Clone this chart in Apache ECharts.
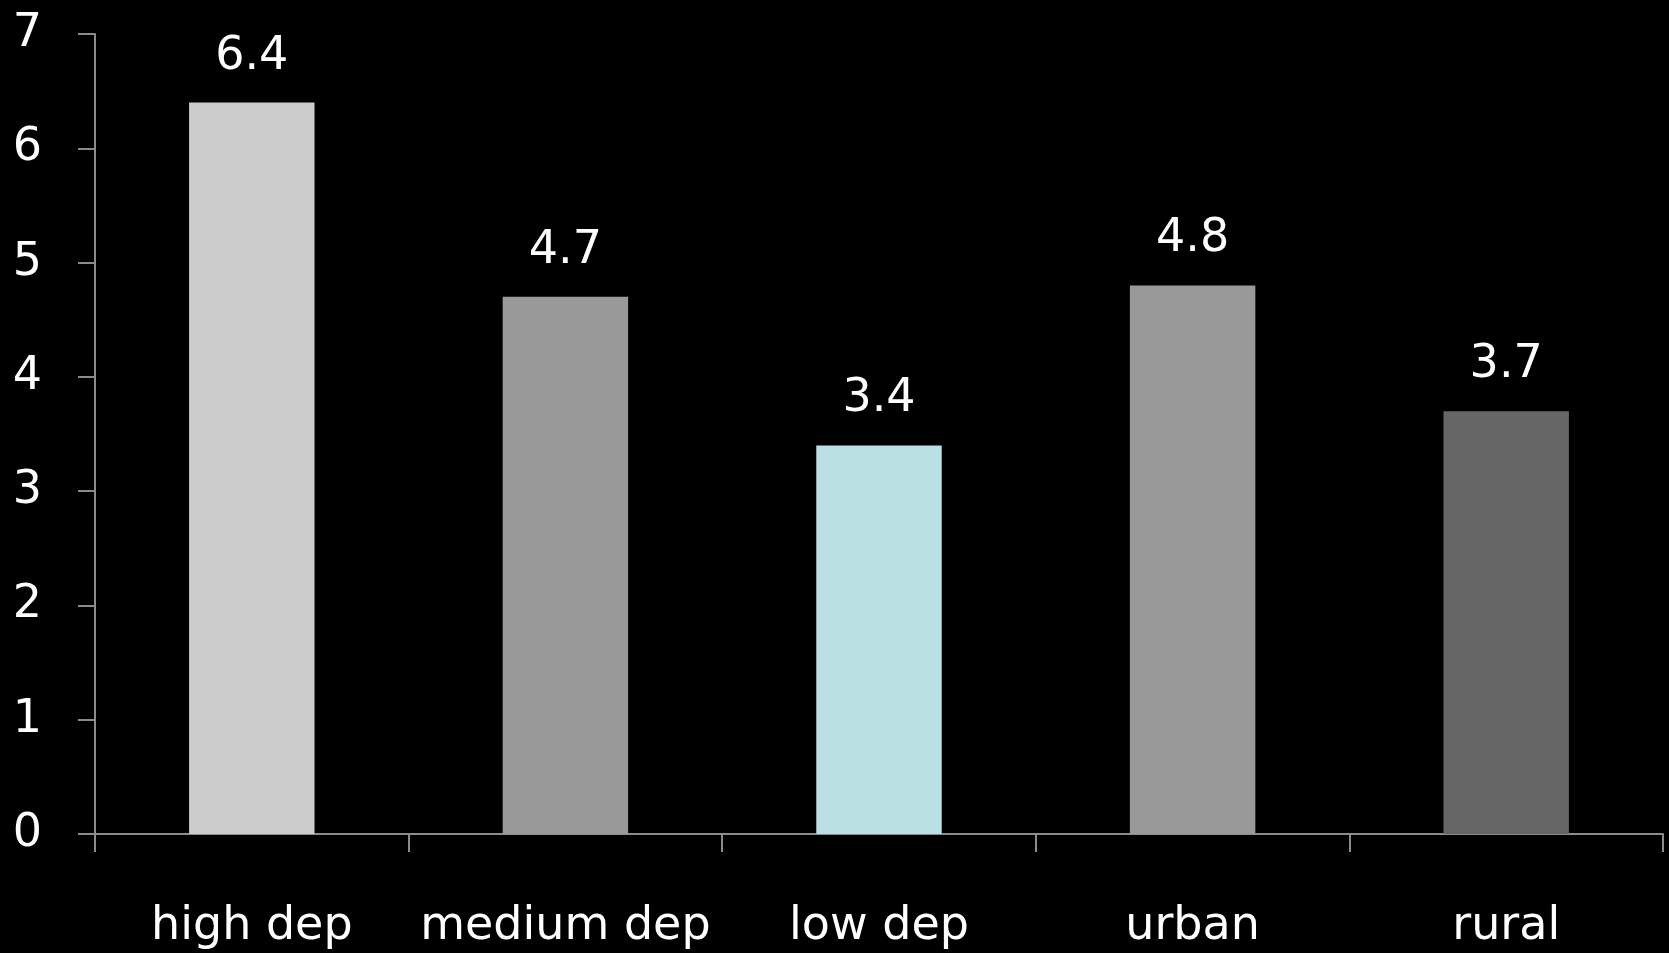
<!DOCTYPE html>
<html>
<head>
<meta charset="utf-8">
<script src="https://cdn.jsdelivr.net/npm/echarts@6/dist/echarts.min.js"></script>
<style>
html,body{margin:0;padding:0;background:#000;}
#chart{width:1669px;height:953px;}
</style>
</head>
<body>
<div id="chart"></div>
<script>
const categories = ['high dep', 'medium dep', 'low dep', 'urban', 'rural'];
const values = [6.4, 4.7, 3.4, 4.8, 3.7];
const barColors = ['#cccccc', '#999999', '#bae0e3', '#999999', '#666666'];
const yTicks = [0, 1, 2, 3, 4, 5, 6, 7];

const chart = echarts.init(document.getElementById('chart'));
chart.setOption({
  backgroundColor: '#000000',
  animation: false,
  grid: { left: 95, right: 6, top: 34, bottom: 119, containLabel: false },
  xAxis: {
    type: 'category',
    data: categories,
    axisLine: { show: true, lineStyle: { color: '#8c8c8c', width: 2 } },
    axisTick: { show: true, interval: 0, length: 18, lineStyle: { color: '#8c8c8c', width: 2 } },
    axisLabel: { color: '#ffffff', fontSize: 46, fontFamily: 'DejaVu Sans', margin: 70, interval: 0 },
    splitLine: { show: false }
  },
  yAxis: {
    type: 'value',
    min: yTicks[0],
    max: yTicks[yTicks.length - 1],
    interval: 1,
    axisLine: { show: true, lineStyle: { color: '#8c8c8c', width: 2 } },
    axisTick: { show: true, length: 17, lineStyle: { color: '#8c8c8c', width: 2 } },
    axisLabel: { color: '#ffffff', fontSize: 46, fontFamily: 'DejaVu Sans', margin: 53 },
    splitLine: { show: false }
  },
  series: [{
    type: 'bar',
    barWidth: '40%',
    data: values.map((v, i) => ({ value: v, itemStyle: { color: barColors[i] } })),
    label: {
      show: true,
      position: 'top',
      distance: 23,
      color: '#ffffff',
      fontSize: 46,
      fontFamily: 'DejaVu Sans'
    }
  }]
});
</script>
</body>
</html>
